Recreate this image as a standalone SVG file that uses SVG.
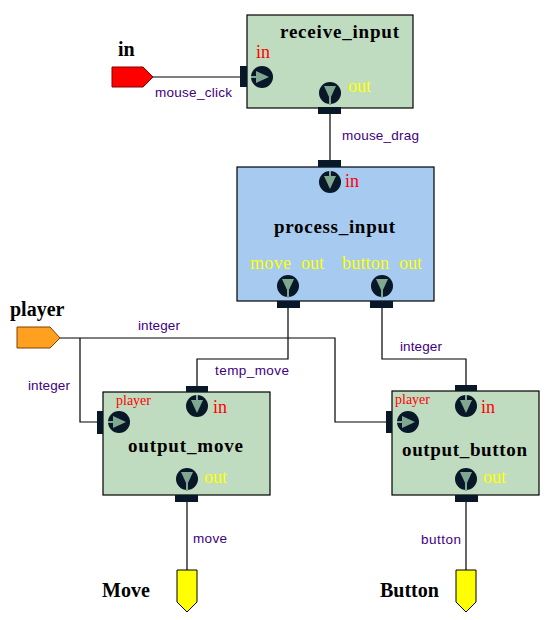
<svg xmlns="http://www.w3.org/2000/svg" width="554" height="620" viewBox="0 0 554 620">
<style>
.box{stroke:#000;stroke-width:1.2}
.green{fill:#c0dcc0}
.blue{fill:#a6caf0}
.title{font-family:"Liberation Serif",serif;font-weight:bold;font-size:19px;fill:#000}
.pin{font-family:"Liberation Serif",serif;font-size:18px}
.red{fill:#ff0000}
.yel{fill:#ffff00}
.small{font-size:14px}
.tab{fill:#081828}
.wire{fill:none;stroke:#000;stroke-width:1.2}
.lbl{font-family:"Liberation Sans",Arial,sans-serif;font-size:13.5px;fill:#400080}
.ext{font-family:"Liberation Serif",serif;font-weight:bold;font-size:20px;fill:#000}
</style>
<defs>
<g id="pinRight"><circle r="11" fill="#081828"/><line x1="-11" y1="0" x2="-5" y2="0" stroke="#80a890" stroke-width="2"/><polygon points="-6,-6 -6,6 7,0" fill="#80a890"/></g>
<g id="pinDownIn"><circle r="11" fill="#081828"/><line x1="0" y1="-11" x2="0" y2="-5" stroke="#80a890" stroke-width="2"/><polygon points="-6,-6 6,-6 0,7" fill="#80a890"/></g>
<g id="pinDownOut"><circle r="11" fill="#081828"/><polygon points="-6,-7 6,-7 0,6" fill="#80a890"/><line x1="0" y1="4" x2="0" y2="12" stroke="#80a890" stroke-width="2"/></g>
</defs>
<g id="connectors">
<polyline class="wire" points="153,77 240,77"/>
<polyline class="wire" points="330,114 330,160"/>
<polyline class="wire" points="288,308 288,359 197,359 197,386"/>
<polyline class="wire" points="382,308 382,359 466,359 466,385"/>
<polyline class="wire" points="60,338 335,338 335,422 386,422"/>
<polyline class="wire" points="80,338 80,422 97,422"/>
<polyline class="wire" points="187,502 187,570"/>
<polyline class="wire" points="466,502 466,570"/>
<text class="lbl" x="155" y="97" textLength="77">mouse_click</text>
<text class="lbl" x="342" y="140" textLength="77">mouse_drag</text>
<text class="lbl" x="138" y="330" textLength="42">integer</text>
<text class="lbl" x="28" y="390" textLength="42">integer</text>
<text class="lbl" x="215" y="375" textLength="74">temp_move</text>
<text class="lbl" x="400" y="351" textLength="42">integer</text>
<text class="lbl" x="193" y="543" textLength="34">move</text>
<text class="lbl" x="421" y="544" textLength="40">button</text>
</g>
<g id="in_port">
<polygon points="112,67 143,67 153,77 143,87 112,87" fill="#ff0000" stroke="#800000" stroke-width="1"/>
<text class="ext" x="118" y="56">in</text>
</g>
<g id="player_port">
<polygon points="17,327 50,327 60,338 50,348 17,348" fill="#ffa020" stroke="#804000" stroke-width="1"/>
<text class="ext" x="10" y="316">player</text>
</g>
<g id="Move_port">
<polygon points="177,570 197,570 197,602 187,612 177,602" fill="#ffff00" stroke="#000" stroke-width="1"/>
<text class="ext" x="102" y="597">Move</text>
</g>
<g id="Button_port">
<polygon points="456,570 476,570 476,602 466,612 456,602" fill="#ffff00" stroke="#000" stroke-width="1"/>
<text class="ext" x="380" y="597">Button</text>
</g>
<g id="receive_input">
<rect class="box green" x="247" y="15" width="166" height="93"/>
<text class="title" x="280" y="38" textLength="119">receive_input</text>
<rect class="tab" x="240" y="66" width="7" height="21"/>
<use href="#pinRight" x="262" y="77"/>
<text class="pin red" x="256" y="58">in</text>
<use href="#pinDownOut" x="330" y="93"/>
<rect class="tab" x="318" y="107" width="23" height="7"/>
<text class="pin yel" x="348" y="92">out</text>
</g>
<g id="process_input">
<rect class="box blue" x="237" y="167" width="197" height="134"/>
<text class="title" x="274" y="233" textLength="121">process_input</text>
<rect class="tab" x="318" y="160" width="23" height="7"/>
<use href="#pinDownIn" x="330" y="182"/>
<text class="pin red" x="345" y="187">in</text>
<text class="pin yel" x="250" y="269" textLength="41">move</text>
<text class="pin yel" x="301" y="269">out</text>
<text class="pin yel" x="342" y="269" textLength="47">button</text>
<text class="pin yel" x="399" y="269">out</text>
<use href="#pinDownOut" x="288" y="286"/>
<use href="#pinDownOut" x="382" y="286"/>
<rect class="tab" x="277" y="301" width="23" height="7"/>
<rect class="tab" x="370" y="301" width="23" height="7"/>
</g>
<g id="output_move">
<rect class="box green" x="103" y="392" width="167" height="103"/>
<text class="title" x="128" y="452" textLength="115">output_move</text>
<rect class="tab" x="186" y="386" width="22" height="6"/>
<use href="#pinDownIn" x="197" y="406"/>
<text class="pin red" x="213" y="413">in</text>
<rect class="tab" x="97" y="411" width="6" height="23"/>
<use href="#pinRight" x="119" y="422"/>
<text class="pin red small" x="116" y="405">player</text>
<use href="#pinDownOut" x="187" y="479"/>
<text class="pin yel" x="204" y="483">out</text>
<rect class="tab" x="175" y="495" width="23" height="7"/>
</g>
<g id="output_button">
<rect class="box green" x="392" y="391" width="147" height="104"/>
<text class="title" x="402" y="456" textLength="125">output_button</text>
<rect class="tab" x="455" y="385" width="22" height="6"/>
<use href="#pinDownIn" x="466" y="406"/>
<text class="pin red" x="481" y="413">in</text>
<rect class="tab" x="386" y="411" width="6" height="22"/>
<use href="#pinRight" x="408" y="422"/>
<text class="pin red small" x="395" y="404">player</text>
<use href="#pinDownOut" x="466" y="479"/>
<text class="pin yel" x="483" y="483">out</text>
<rect class="tab" x="455" y="495" width="23" height="7"/>
</g>
</svg>
